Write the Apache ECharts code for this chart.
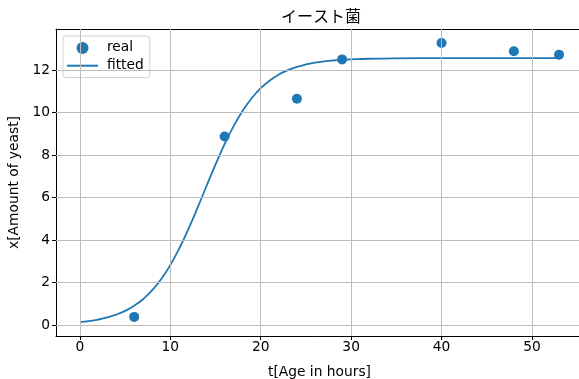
<!DOCTYPE html>
<html>
<head>
<meta charset="utf-8">
<script src="https://cdn.jsdelivr.net/npm/echarts@6/dist/echarts.min.js"></script>
<style>html,body{margin:0;padding:0;background:#fff;}#c{width:579px;height:379px;}</style>
</head>
<body>
<div id="c"></div>
<script>
// Observed data (real)
const realT = [6, 16, 24, 29, 40, 48, 53];
const realX = [0.38, 8.87, 10.65, 12.50, 13.27, 12.88, 12.72];
// Fitted curve values
const fitT = [0,1,2,3,4,5,6,7,8,9,10,11,12,13,14,15,16,17,18,19,20,21,22,23,24,25,26,27,28,29,30,32,35,40,45,50,53];
const fitX = [0.133,0.184,0.255,0.352,0.484,0.663,0.903,1.222,1.638,2.167,2.824,3.611,4.516,5.506,6.539,7.557,8.510,9.358,10.080,10.673,11.144,11.508,11.786,11.994,12.147,12.26,12.343,12.403,12.447,12.479,12.501,12.530,12.549,12.558,12.56,12.56,12.56];
const xTicks = [0, 10, 20, 30, 40, 50];
const yTicks = [0, 2, 4, 6, 8, 10, 12];

const font = "'DejaVu Sans', 'Noto Sans CJK JP', sans-serif";
const cjk = "'Noto Sans CJK JP', sans-serif";
const blue = '#1f77b4';
const gridColor = '#bdbdbd';
const fs = 13.8;
const chart = echarts.init(document.getElementById('c'), null, {renderer: 'canvas'});
chart.setOption({
  animation: false,
  backgroundColor: '#fff',
  textStyle: {fontFamily: font},
  title: {
    text: 'イースト菌', left: 316, top: 3, textAlign: 'center',
    textStyle: {fontFamily: cjk, fontSize: 16, fontWeight: 'normal', color: '#000'}
  },
  grid: {left: 56, top: 29, width: 527, height: 307, outerBoundsMode: 'none', show: false},
  legend: {
    left: 63, top: 36, orient: 'vertical', itemGap: 4, itemWidth: 31, itemHeight: 12,
    padding: [5, 6, 5, 4],
    backgroundColor: 'rgba(255,255,255,0.8)', borderColor: '#d0d0d0', borderWidth: 1, borderRadius: 3,
    textStyle: {fontFamily: font, fontSize: fs, color: '#000', padding: [0, 0, 0, 4]},
    data: [
      {name: 'real', icon: 'circle', itemStyle: {color: blue, opacity: 1}},
      {name: 'fitted', icon: 'path://M0,5 L31,5 L31,7 L0,7 Z', itemStyle: {color: blue}}
    ]
  },
  xAxis: [{
    type: 'value', min: -2.65, max: 55.65,
    name: 't[Age in hours]', nameLocation: 'middle', nameGap: 30,
    nameTextStyle: {fontFamily: font, fontSize: fs, color: '#000'},
    axisLine: {show: true, onZero: false, lineStyle: {color: '#000', width: 1}},
    axisTick: {show: true, length: 4, customValues: xTicks, lineStyle: {color: '#000'}},
    axisLabel: {customValues: xTicks, fontFamily: font, fontSize: fs, color: '#000', margin: 5},
    splitLine: {show: false}
  }, {
    type: 'value', position: 'top', min: -2.65, max: 55.65,
    axisLine: {show: true, onZero: false, lineStyle: {color: '#000', width: 1}},
    axisTick: {show: false}, axisLabel: {show: false}, splitLine: {show: false}
  }],
  yAxis: {
    type: 'value', min: -0.52, max: 13.93,
    name: 'x[Amount of yeast]', nameLocation: 'middle', nameGap: 31, nameRotate: 90,
    nameTextStyle: {fontFamily: font, fontSize: fs, color: '#000'},
    axisLine: {show: true, onZero: false, lineStyle: {color: '#000', width: 1}},
    axisTick: {show: true, length: 4, customValues: yTicks, lineStyle: {color: '#000'}},
    axisLabel: {customValues: yTicks, fontFamily: font, fontSize: fs, color: '#000', margin: 6},
    splitLine: {show: false}
  },
  series: [
    {
      name: 'grid', type: 'line', data: [], z: 0, silent: true,
      markLine: {
        silent: true, symbol: 'none', animation: false,
        label: {show: false},
        lineStyle: {color: gridColor, width: 1, type: 'solid'},
        emphasis: {disabled: true},
        data: xTicks.map(v => ({xAxis: v})).concat(yTicks.map(v => ({yAxis: v})))
      }
    },
    {
      name: 'real', type: 'scatter', symbol: 'circle', symbolSize: 10,
      itemStyle: {color: blue, opacity: 1}, z: 3,
      data: realT.map((t, i) => [t, realX[i]])
    },
    {
      name: 'fitted', type: 'line', showSymbol: false, smooth: true,
      lineStyle: {color: blue, width: 1.8}, itemStyle: {color: blue}, z: 2,
      data: fitT.map((t, i) => [t, fitX[i]])
    }
  ]
});
</script>
</body>
</html>
